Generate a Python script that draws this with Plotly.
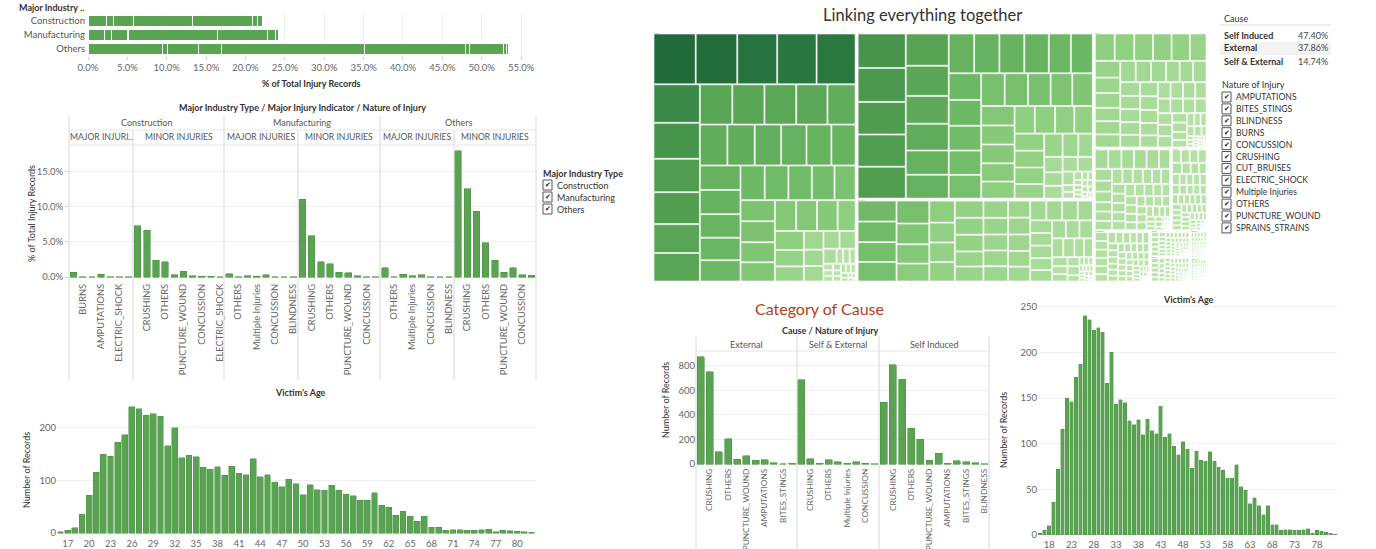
import plotly.graph_objects as go

W, H = 1376, 549
def X(px): return px / W
def Y(py): return 1 - py / H

FONT = "Lato"
GREEN = "#5aa352"
EDGE = "#4a9443"
GRID = "#efefef"
DIV = "#d6d6d6"
TXT = "#333333"
TICK = "#666666"

# ---------------- data ----------------
industries = ["Construction", "Manufacturing", "Others"]
top_seg_construction = [2.3, 1.0, 2.5, 7.5, 7.6, 0.6, 0.6]
top_seg_manufacturing = [2.1, 0.85, 2.05, 0.2, 11.2, 6.4, 1.0, 0.45]
top_seg_others = [9.4, 0.7, 3.9, 2.9, 18.2, 12.8, 0.6, 4.3, 0.3, 0.3]
top_ticks = [0, 5, 10, 15, 20, 25, 30, 35, 40, 45, 50, 55]

major_names_con = ["CRUSHING", "BURNS", "CUT_BRUISES", "AMPUTATIONS", "OTHERS", "ELECTRIC_SHOCK", "Multiple Injuries"]
major_vals_con = [0.7, 0.05, 0.05, 0.4, 0.05, 0.05, 0.02]
minor_names_con = ["CUT_BRUISES", "CRUSHING", "SPRAINS_STRAINS", "OTHERS", "BURNS", "PUNCTURE_WOUND",
                   "Multiple Injuries", "CONCUSSION", "BITES_STINGS", "ELECTRIC_SHOCK"]
minor_vals_con = [7.3, 6.7, 2.4, 2.2, 0.35, 0.8, 0.2, 0.1, 0.1, 0.05]
major_names_man = ["CRUSHING", "OTHERS", "AMPUTATIONS", "Multiple Injuries", "BURNS", "CONCUSSION", "ELECTRIC_SHOCK", "BLINDNESS"]
major_vals_man = [0.5, 0.02, 0.2, 0.1, 0.35, 0.02, 0.05, 0.02]
minor_names_man = ["CUT_BRUISES", "CRUSHING", "SPRAINS_STRAINS", "OTHERS", "BURNS", "PUNCTURE_WOUND",
                   "Multiple Injuries", "CONCUSSION", "BITES_STINGS"]
minor_vals_man = [11.1, 5.9, 2.2, 1.9, 0.7, 0.6, 0.2, 0.05, 0.02]
major_names_oth = ["CRUSHING", "OTHERS", "AMPUTATIONS", "Multiple Injuries", "BURNS", "CONCUSSION", "ELECTRIC_SHOCK", "BLINDNESS"]
major_vals_oth = [1.3, 0.02, 0.4, 0.2, 0.3, 0.05, 0.05, 0.02]
minor_names_oth = ["CUT_BRUISES", "CRUSHING", "SPRAINS_STRAINS", "OTHERS", "BURNS", "PUNCTURE_WOUND",
                   "Multiple Injuries", "CONCUSSION", "BITES_STINGS"]
minor_vals_oth = [18.0, 12.6, 9.4, 4.9, 2.4, 0.7, 1.3, 0.35, 0.25]
pct_ticks = [0, 5, 10, 15]

ages = list(range(16, 83))
age_counts = [2, 5, 10, 36, 72, 116, 150, 146, 173, 187,
              240, 236, 224, 227, 222, 166, 200, 143, 148, 145,
              125, 121, 126, 110, 127, 114, 111, 141, 107, 111,
              97, 88, 102, 94, 73, 92, 82, 81, 91, 81,
              74, 71, 62, 62, 77, 53, 49, 34, 41, 32,
              22, 32, 11, 11, 5, 6, 6, 5, 5, 6,
              7, 2, 5, 4, 3, 2, 1]
age_ticks_left = list(range(17, 81, 3))
age_ticks_right = list(range(18, 79, 5))

causes = ["External", "Self & External", "Self Induced"]
cause_names_ext = ["CUT_BRUISES", "CRUSHING", "SPRAINS_STRAINS", "OTHERS", "BURNS", "PUNCTURE_WOUND",
                   "Multiple Injuries", "AMPUTATIONS", "CONCUSSION", "BITES_STINGS", "ELECTRIC_SHOCK"]
cause_vals_ext = [877, 754, 98, 208, 38, 68, 30, 36, 11, 0.5, 5]
cause_names_se = ["CUT_BRUISES", "CRUSHING", "SPRAINS_STRAINS", "OTHERS", "BURNS", "Multiple Injuries",
                  "PUNCTURE_WOUND", "CONCUSSION", "AMPUTATIONS"]
cause_vals_se = [686, 41, 8, 36, 19, 5, 19, 5, 1]
cause_names_si = ["CUT_BRUISES", "CRUSHING", "SPRAINS_STRAINS", "OTHERS", "BURNS", "PUNCTURE_WOUND",
                  "Multiple Injuries", "AMPUTATIONS", "CONCUSSION", "BITES_STINGS", "ELECTRIC_SHOCK", "BLINDNESS"]
cause_vals_si = [505, 811, 691, 290, 202, 30, 87, 5, 25, 19, 11, 1]
count_ticks = [0, 200, 400, 600, 800]

cause_table_names = ["Self Induced", "External", "Self & External"]
cause_table_pct = [47.40, 37.86, 14.74]

nature_filter = ["AMPUTATIONS", "BITES_STINGS", "BLINDNESS", "BURNS", "CONCUSSION", "CRUSHING",
                 "CUT_BRUISES", "ELECTRIC_SHOCK", "Multiple Injuries", "OTHERS", "PUNCTURE_WOUND",
                 "SPRAINS_STRAINS"]

# ---------------- figure ----------------
fig = go.Figure()
annotations = []
shapes = []

def text(px, py, s, size=9, color=TXT, anchor="center", bold=False, angle=0, yanchor="middle"):
    if bold:
        s = "<b>" + s + "</b>"
    annotations.append(dict(x=X(px), y=Y(py), xref="paper", yref="paper", text=s, showarrow=False,
                            xanchor=anchor, yanchor=yanchor, textangle=angle,
                            font=dict(family=FONT, size=size, color=color)))

def line(x0, y0, x1, y1, color=DIV, width=1):
    shapes.append(dict(type="line", xref="paper", yref="paper", x0=X(x0), y0=Y(y0), x1=X(x1), y1=Y(y1),
                       line=dict(color=color, width=width)))

def checkbox(px, py, label, size=9):
    shapes.append(dict(type="rect", xref="paper", yref="paper", x0=X(px), x1=X(px + 9),
                       y0=Y(py + 5), y1=Y(py - 5), line=dict(color="#555555", width=1),
                       fillcolor="white"))
    annotations.append(dict(x=X(px + 4.5), y=Y(py), xref="paper", yref="paper", text="✔",
                            showarrow=False, xanchor="center", yanchor="middle",
                            font=dict(family="DejaVu Sans", size=7, color="#222222")))
    text(px + 12, py, label, size=size, color=TXT, anchor="left")

# --- top horizontal stacked bar ---
top_segments = [top_seg_construction, top_seg_manufacturing, top_seg_others]
nseg = max(len(s) for s in top_segments)
for i in range(nseg):
    fig.add_trace(go.Bar(
        x=[s[i] if i < len(s) else 0 for s in top_segments], y=industries, orientation="h",
        xaxis="x", yaxis="y", width=0.72,
        marker=dict(color=GREEN, line=dict(color="white", width=1)),
        showlegend=False, hoverinfo="skip"))

# --- middle chart ---
mid_panes = [("Construction", "MAJOR", major_names_con, major_vals_con),
             ("Construction", "MINOR", minor_names_con, minor_vals_con),
             ("Manufacturing", "MAJOR", major_names_man, major_vals_man),
             ("Manufacturing", "MINOR", minor_names_man, minor_vals_man),
             ("Others", "MAJOR", major_names_oth, major_vals_oth),
             ("Others", "MINOR", minor_names_oth, minor_vals_oth)]
mid_keys, mid_vals, mid_tv, mid_tt = [], [], [], []
for ind, indic, names, vals in mid_panes:
    for j, (n, v) in enumerate(zip(names, vals)):
        k = f"{ind}|{indic}|{n}"
        mid_keys.append(k)
        mid_vals.append(v)
        if j % 2 == 1:
            mid_tv.append(k)
            mid_tt.append(n)
fig.add_trace(go.Bar(x=mid_keys, y=mid_vals, xaxis="x2", yaxis="y2", width=0.72,
                     marker=dict(color=GREEN, line=dict(color=EDGE, width=0.6)),
                     showlegend=False, hoverinfo="skip"))

# --- age histograms ---
fig.add_trace(go.Bar(x=ages, y=age_counts, xaxis="x3", yaxis="y3", width=0.82,
                     marker=dict(color=GREEN, line=dict(color=EDGE, width=0.5)),
                     showlegend=False, hoverinfo="skip"))
fig.add_trace(go.Bar(x=ages, y=age_counts, xaxis="x4", yaxis="y4", width=0.78,
                     marker=dict(color=GREEN, line=dict(color=EDGE, width=0.4)),
                     showlegend=False, hoverinfo="skip"))

# --- cause chart ---
cause_panes = [("External", cause_names_ext, cause_vals_ext),
               ("Self & External", cause_names_se, cause_vals_se),
               ("Self Induced", cause_names_si, cause_vals_si)]
c_keys, c_vals, c_tv, c_tt = [], [], [], []
for cause, names, vals in cause_panes:
    for j, (n, v) in enumerate(zip(names, vals)):
        k = f"{cause}|{n}"
        c_keys.append(k)
        c_vals.append(v)
        if j % 2 == 1:
            c_tv.append(k)
            c_tt.append(n)
fig.add_trace(go.Bar(x=c_keys, y=c_vals, xaxis="x5", yaxis="y5", width=0.76,
                     marker=dict(color=GREEN, line=dict(color=EDGE, width=0.6)),
                     showlegend=False, hoverinfo="skip"))

# --- treemap: nature of injury -> victim's age ---
nature_totals = {}
for cause, names, vals in cause_panes:
    for n, v in zip(names, vals):
        nature_totals[n] = nature_totals.get(n, 0) + v
age_sum = sum(age_counts)
stops = [(0.0, (189, 229, 173)), (0.26, (143, 207, 128)), (0.4, (108, 184, 100)),
         (0.75, (78, 154, 78)), (0.88, (47, 127, 68)), (1.0, (33, 106, 58))]
def scale_color(t):
    t = max(0.0, min(1.0, t))
    for (t0, c0), (t1, c1) in zip(stops[:-1], stops[1:]):
        if t <= t1:
            f = (t - t0) / (t1 - t0) if t1 > t0 else 0
            return "rgb(%d,%d,%d)" % tuple(round(a + (b - a) * f) for a, b in zip(c0, c1))
    return "rgb(%d,%d,%d)" % stops[-1][1]

ids, labels, parents, values = ["all"], ["All"], [""], [0]
leaf_vals = {}
for n, tot in nature_totals.items():
    for a, c in zip(ages, age_counts):
        leaf_vals[(n, a)] = tot * c / age_sum
vmax = max(leaf_vals.values())
colors = ["white"]
for n in nature_totals:
    ids.append(n); labels.append(n); parents.append("all"); values.append(0); colors.append("white")
    for a in ages:
        ids.append(f"{n}-{a}"); labels.append(f"{n} {a}"); parents.append(n)
        values.append(leaf_vals[(n, a)]); colors.append(scale_color(leaf_vals[(n, a)] / vmax))
fig.add_trace(go.Treemap(
    ids=ids, labels=labels, parents=parents, values=values, branchvalues="remainder",
    marker=dict(colors=colors, line=dict(color="white", width=0.6), pad=dict(t=1, l=1, r=1, b=1)),
    tiling=dict(packing="squarify", pad=1, squarifyratio=1.5),
    textinfo="none", pathbar=dict(visible=False), sort=True, hoverinfo="label+value",
    domain=dict(x=[X(652), X(1208)], y=[Y(283), Y(32)])))

# ---------------- axes ----------------
tickfont = dict(family=FONT, size=9.5, color=TICK)
layout = dict(
    width=W, height=549, margin=dict(l=0, r=0, t=0, b=0, autoexpand=False),
    paper_bgcolor="white", plot_bgcolor="white", barmode="stack", showlegend=False,
    font=dict(family=FONT, size=9, color=TXT), hovermode=False,
    xaxis=dict(domain=[X(88), X(540)], range=[0, 57.4], tickvals=top_ticks,
               ticktext=[f"{t:.1f}%" for t in top_ticks], tickfont=tickfont,
               showgrid=True, gridcolor=GRID, zeroline=False, ticks="outside", ticklen=3,
               tickcolor="#cccccc", anchor="y", automargin=False),
    yaxis=dict(domain=[Y(56), Y(14)], type="category", categoryorder="array",
               categoryarray=industries, autorange="reversed", tickfont=dict(family=FONT, size=9.5, color="#555555"),
               showgrid=False, zeroline=False, anchor="x", ticklabelstandoff=2, automargin=False),
    xaxis2=dict(domain=[X(69), X(536)], type="category", categoryorder="array", categoryarray=mid_keys,
                range=[-0.5, len(mid_keys) - 0.5], tickmode="array", tickvals=mid_tv, ticktext=mid_tt,
                tickangle=-90, tickfont=dict(family=FONT, size=9.3, color=TICK), showgrid=False,
                zeroline=False, anchor="y2", automargin=False),
    yaxis2=dict(domain=[Y(281), Y(146)], range=[-0.57, 18.7], tickvals=pct_ticks,
                ticktext=[f"{t:.1f}%" for t in pct_ticks], tickfont=tickfont, showgrid=True,
                gridcolor=GRID, zeroline=False, anchor="x2", ticks="outside", ticklen=3, tickcolor="#cccccc",
                automargin=False),
    xaxis3=dict(domain=[X(57), X(535)], range=[15.5, 82.5], tickvals=age_ticks_left,
                tickfont=tickfont, showgrid=False, zeroline=False, anchor="y3", automargin=False),
    yaxis3=dict(domain=[Y(536), Y(400)], range=[-5.7, 253], tickvals=[0, 100, 200],
                tickfont=tickfont, showgrid=True, gridcolor=GRID, zeroline=False, anchor="x3", automargin=False),
    xaxis4=dict(domain=[X(1038), X(1337)], range=[15.5, 82.5], tickvals=age_ticks_right,
                tickfont=tickfont, showgrid=False, zeroline=False, anchor="y4", automargin=False),
    yaxis4=dict(domain=[Y(537), Y(302)], range=[-2.2, 255.2], tickvals=[0, 50, 100, 150, 200, 250],
                tickfont=tickfont, showgrid=True, gridcolor=GRID, zeroline=False, anchor="x4", automargin=False),
    xaxis5=dict(domain=[X(696), X(989)], type="category", categoryorder="array", categoryarray=c_keys,
                range=[-0.5, len(c_keys) - 0.5], tickmode="array", tickvals=c_tv, ticktext=c_tt,
                tickangle=-90, tickfont=dict(family=FONT, size=8.3, color=TICK), showgrid=False,
                zeroline=False, anchor="y5", automargin=False),
    yaxis5=dict(domain=[Y(466), Y(352)], range=[-16.3, 914], tickvals=count_ticks,
                tickfont=tickfont, showgrid=True, gridcolor=GRID, zeroline=False, anchor="x5", automargin=False),
)

# ---------------- texts & lines ----------------
# top chart
text(17, 7, "Major Industry ..", size=9, bold=True, anchor="left")
text(311, 83, "% of Total Injury Records", size=9, bold=True)

# middle chart
text(302, 107, "Major Industry Type / Major Injury Indicator / Nature of Injury", size=9, bold=True)
ind_bounds = [69, 224, 380, 536]
ind_split = [133, 298, 454]
for i, ind in enumerate(industries):
    text((ind_bounds[i] + ind_bounds[i + 1]) / 2, 122, ind, size=9, color="#555555")
    maj_c = (ind_bounds[i] + ind_split[i]) / 2
    min_c = (ind_split[i] + ind_bounds[i + 1]) / 2
    text(maj_c, 137, "MAJOR INJURI.." if i == 0 else "MAJOR INJURIES", size=8.6, color="#555555")
    text(min_c, 137, "MINOR INJURIES", size=8.6, color="#555555")
for b in ind_bounds:
    line(b, 116, b, 380)
for b in ind_split:
    line(b, 130, b, 380)
line(69, 130, 536, 130, color="#e6e6e6")
line(69, 145, 536, 145, color="#e6e6e6")
text(31, 213, "% of Total Injury Records", size=9, angle=-90)

# legend major industry
text(541, 173, "Major Industry Type", size=9, bold=True, anchor="left")
for i, ind in enumerate(industries):
    checkbox(543, 185 + 12 * i, ind)

# bottom-left age chart
text(300, 392, "Victim’s Age", size=9, bold=True)
text(26, 470, "Number of Records", size=9, angle=-90)

# treemap title
text(922, 15, "Linking everything together", size=16.5, color="#333333")

# cause table
text(1222, 18, "Cause", size=9, anchor="left")
line(1220, 25, 1331, 25, color="#dddddd")
shapes.append(dict(type="rect", xref="paper", yref="paper", x0=X(1220), x1=X(1331), y0=Y(55), y1=Y(42),
                   fillcolor="#f3f3f3", line=dict(width=0), layer="below"))
for i, (n, p) in enumerate(zip(cause_table_names, cause_table_pct)):
    text(1222, 35 + 13 * i, n, size=9, bold=True, anchor="left")
    text(1330, 35 + 13 * i, f"{p:.2f}%", size=9, color="#444444", anchor="right")

# nature filter
text(1220, 85, "Nature of Injury", size=9, anchor="left")
for i, n in enumerate(nature_filter):
    checkbox(1222, 97 + 11.9 * i, n, size=8.6)

# cause chart
text(819, 308, "Category of Cause", size=16, color="#b53d1a")
text(830, 330, "Cause / Nature of Injury", size=9, bold=True)
c_bounds = [696, 797, 879, 989]
for i, c in enumerate(causes):
    text((c_bounds[i] + c_bounds[i + 1]) / 2, 344, c, size=9, color="#555555")
for b in c_bounds:
    line(b, 336, b, 549)
line(696, 351, 989, 351, color="#e6e6e6")
text(665, 400, "Number of Records", size=9, angle=-90)

# right age chart
text(1188, 299, "Victim’s Age", size=9, bold=True)
text(1003, 430, "Number of Records", size=9, angle=-90)

layout["annotations"] = annotations
layout["shapes"] = shapes
fig.update_layout(**layout)
fig.write_html("out.html", config={"displayModeBar": False},
               post_script="document.body.style.margin='0px';document.body.style.overflow='hidden';")
